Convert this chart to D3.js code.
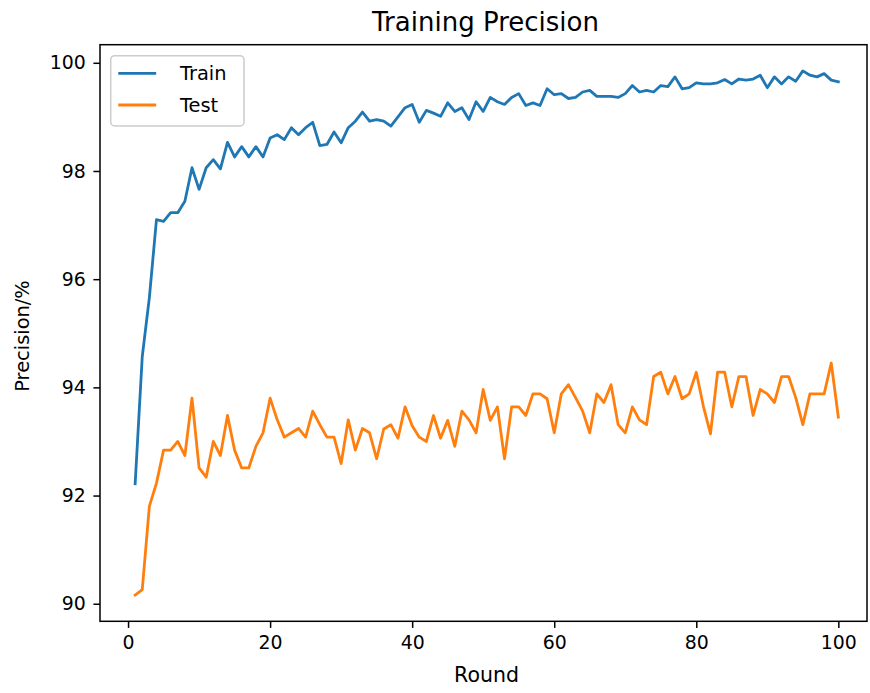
<!DOCTYPE html>
<html>
<head>
<meta charset="utf-8">
<script src="https://cdn.jsdelivr.net/npm/d3@7"></script>
<style>
  body { margin: 0; background: #fff; }
  svg { display: block; font-family: "DejaVu Sans", sans-serif; }
</style>
</head>
<body>
<svg id="svg" width="870" height="693"></svg>
<script>
// values, rounds 1..100
const rounds = d3.range(1, 101);
const trainValues = [
  92.22, 94.57, 95.66, 97.10, 97.07, 97.23, 97.23, 97.44, 98.06, 97.66,
  98.06, 98.21, 98.04, 98.53, 98.26, 98.45, 98.26, 98.45, 98.26, 98.61,
  98.67, 98.58, 98.80, 98.67, 98.80, 98.90, 98.47, 98.49, 98.72, 98.52,
  98.80, 98.92, 99.09, 98.92, 98.95, 98.92, 98.83, 99.00, 99.17, 99.23,
  98.90, 99.12, 99.07, 99.01, 99.26, 99.10, 99.17, 98.95, 99.28, 99.10,
  99.36, 99.28, 99.23, 99.36, 99.43, 99.21, 99.26, 99.21, 99.52, 99.41,
  99.43, 99.34, 99.36, 99.46, 99.49, 99.38, 99.38, 99.38, 99.36, 99.43,
  99.58, 99.46, 99.49, 99.46, 99.58, 99.56, 99.74, 99.52, 99.54, 99.63,
  99.61, 99.61, 99.63, 99.69, 99.61, 99.70, 99.68, 99.70, 99.77, 99.54,
  99.74, 99.61, 99.74, 99.66, 99.85, 99.77, 99.74, 99.80, 99.68, 99.65
];
const testValues = [
  90.16, 90.26, 91.80, 92.23, 92.84, 92.84, 93.00, 92.74, 93.80, 92.51,
  92.34, 93.00, 92.74, 93.48, 92.84, 92.51, 92.51, 92.91, 93.16, 93.80,
  93.40, 93.08, 93.16, 93.24, 93.08, 93.56, 93.31, 93.08, 93.08, 92.59,
  93.40, 92.84, 93.24, 93.16, 92.68, 93.23, 93.31, 93.06, 93.64, 93.29,
  93.08, 93.00, 93.48, 93.06, 93.39, 92.91, 93.56, 93.40, 93.16, 93.96,
  93.39, 93.64, 92.68, 93.64, 93.64, 93.48, 93.88, 93.88, 93.79, 93.16,
  93.88, 94.05, 93.81, 93.56, 93.16, 93.88, 93.72, 94.05, 93.31, 93.16,
  93.64, 93.40, 93.31, 94.20, 94.28, 93.88, 94.20, 93.79, 93.88, 94.28,
  93.65, 93.14, 94.28, 94.28, 93.64, 94.20, 94.20, 93.48, 93.96, 93.88,
  93.72, 94.20, 94.20, 93.81, 93.31, 93.88, 93.88, 93.88, 94.45, 93.45
];
const xTicks = [0, 20, 40, 60, 80, 100];
const yTicks = [90, 92, 94, 96, 98, 100];
const seriesNames = ["Train", "Test"];
const seriesColors = ["#1f77b4", "#ff7f0e"];

const svg = d3.select("#svg");
const plotLeft = 100, plotRight = 867, plotTop = 44.7, plotBottom = 621.3;

// matplotlib style 5% margins
const xPad = (100 - 1) * 0.05;
const x = d3.scaleLinear().domain([1 - xPad, 100 + xPad]).range([plotLeft, plotRight + 6.5]);
const yMin = d3.min(testValues), yMax = d3.max(trainValues);
const yPad = (yMax - yMin) * 0.05;
const y = d3.scaleLinear().domain([yMin - yPad, yMax + yPad]).range([plotBottom, plotTop]);

const fs = 18.9;

// axes
const xAxis = d3.axisBottom(x).tickValues(xTicks).tickSize(6.6).tickPadding(6.6);
const gx = svg.append("g").attr("transform", `translate(0,${plotBottom})`).call(xAxis);
gx.select(".domain").remove();
const yAxis = d3.axisLeft(y).tickValues(yTicks).tickSize(6.6).tickPadding(7.6);
const gy = svg.append("g").attr("transform", `translate(${plotLeft},0)`).call(yAxis);
gy.select(".domain").remove();
[gx, gy].forEach(g => {
  g.selectAll(".tick line").attr("stroke", "#000").attr("stroke-width", 1.5);
  g.selectAll(".tick text").attr("fill", "#000").attr("font-size", fs)
    .attr("font-family", "DejaVu Sans, sans-serif");
});
gx.selectAll(".tick text").attr("dy", "0.78em");

// lines
const line = d3.line().x((d, i) => x(rounds[i])).y(d => y(d));
svg.append("clipPath").attr("id", "clip")
  .append("rect").attr("x", plotLeft).attr("y", plotTop)
  .attr("width", plotRight - plotLeft).attr("height", plotBottom - plotTop);
[trainValues, testValues].forEach((vals, k) => {
  svg.append("path").datum(vals)
    .attr("d", line)
    .attr("fill", "none")
    .attr("stroke", seriesColors[k])
    .attr("stroke-width", 2.8)
    .attr("stroke-linejoin", "round")
    .attr("stroke-linecap", "square")
    .attr("clip-path", "url(#clip)");
});

// spines
svg.append("rect")
  .attr("x", plotLeft).attr("y", plotTop)
  .attr("width", plotRight - plotLeft).attr("height", plotBottom - plotTop)
  .attr("fill", "none").attr("stroke", "#000").attr("stroke-width", 1.5);

// labels
svg.append("text").attr("x", (plotLeft + plotRight) / 2 + 2).attr("y", 31)
  .attr("text-anchor", "middle").attr("font-size", 26).text("Training Precision");
svg.append("text").attr("x", (plotLeft + plotRight) / 2 + 3).attr("y", 682)
  .attr("text-anchor", "middle").attr("font-size", 20.5).text("Round");
svg.append("text")
  .attr("transform", `translate(29,${(plotTop + plotBottom) / 2 + 3}) rotate(-90)`)
  .attr("text-anchor", "middle").attr("font-size", 19.4).text("Precision/%");

// legend
const legend = svg.append("g").attr("transform", "translate(110.7,55.7)");
legend.append("rect")
  .attr("width", 133.3).attr("height", 70.3).attr("rx", 4)
  .attr("fill", "#fff").attr("fill-opacity", 0.8)
  .attr("stroke", "#cccccc").attr("stroke-width", 1.5);
seriesNames.forEach((name, k) => {
  const cy = 17.6 + k * 31.7;
  legend.append("line")
    .attr("x1", 7.6).attr("x2", 45.5).attr("y1", cy).attr("y2", cy)
    .attr("stroke", seriesColors[k]).attr("stroke-width", 2.8);
  legend.append("text")
    .attr("x", 69.3).attr("y", cy + 6.6)
    .attr("font-size", 19.4).text(name);
});
</script>
</body>
</html>
